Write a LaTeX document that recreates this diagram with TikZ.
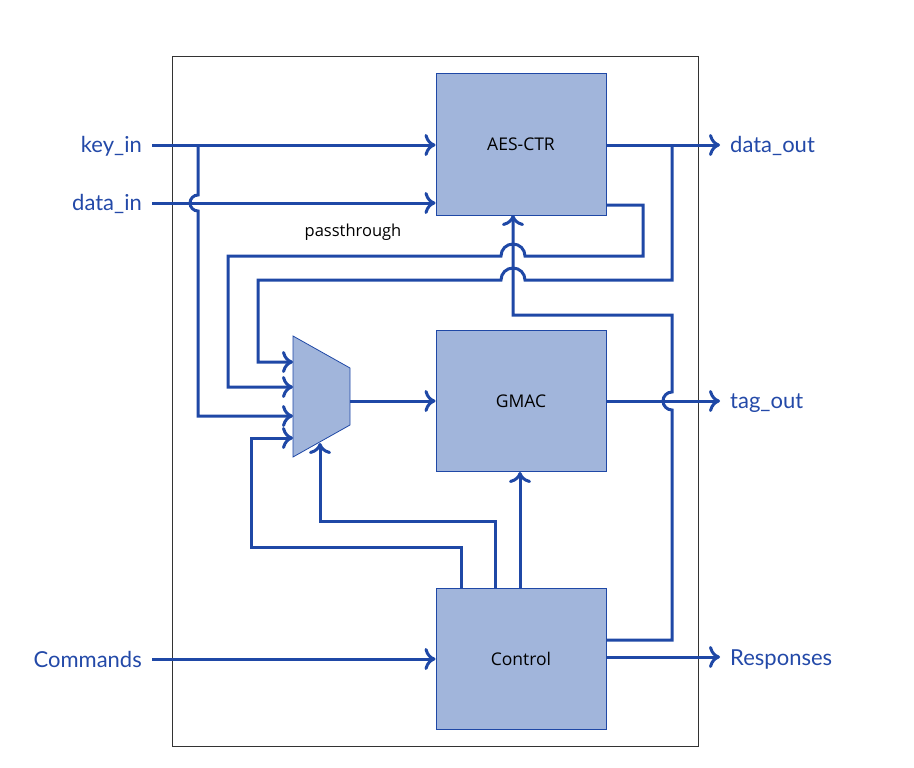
\documentclass[tikz,border=0pt]{standalone}
\usepackage{fontspec}
\setmainfont{Open Sans}
\newfontfamily\labelfont{Lato}
\usetikzlibrary{arrows.meta}
\definecolor{wirec}{HTML}{1F48A6}
\definecolor{labelc}{HTML}{2349A8}
\definecolor{boxfill}{HTML}{A1B5DB}
\begin{document}
\begin{tikzpicture}[x=1pt,y=1pt,
  wire/.style={draw=wirec,line width=3pt},
  arr/.style={wire,-{Computer Modern Rightarrow[length=11pt,width=22pt,line width=3pt]}},
  block/.style={draw=wirec,fill=boxfill,line width=1pt,minimum width=170pt,minimum height=141pt,inner sep=0pt,font=\fontsize{17.5}{21}\selectfont},
  lbl/.style={text=labelc,font=\labelfont\fontsize{22}{26}\selectfont,inner sep=0pt}]
\useasboundingbox (0,0) rectangle (914,-768);
\draw[black!80,line width=0.9pt] (172,-56) rectangle (698,-746);
% blocks
\node[block] (aes) at (521,-144.5) {AES-CTR};
\node[block] (gmac) at (521,-401) {GMAC};
\node[block] (ctrl) at (521,-658.5) {Control};
\draw[draw=wirec,fill=boxfill,line width=0.8pt] (293,-336) -- (350,-368) -- (350,-425) -- (293,-457) -- cycle;
\coordinate (mux) at (321,-401);
% labels
\node[lbl,anchor=base east] (keyin) at (142,-152) {key\_in};
\node[lbl,anchor=base east] (datain) at (142,-210) {data\_in};
\node[lbl,anchor=base east] (cmds) at (142,-667) {Commands};
\node[lbl,anchor=base west] (dataout) at (730,-153) {data\_out};
\node[lbl,anchor=base west] (tagout) at (730,-408) {tag\_out};
\node[lbl,anchor=base west] (resp) at (730,-665) {Responses};
\node[font=\fontsize{16.5}{20}\selectfont,inner sep=0pt] (pt) at (353,-232) {passthrough};
% left inputs
\coordinate (kin) at (152,-145);
\coordinate (din) at (152,-203);
\coordinate (cin) at (152,-659);
\draw[arr] (kin) -- (kin -| aes.west);
\draw[arr] (din) -- (din -| aes.west);
\draw[arr] (cin) -- (cin -| ctrl.west);
% key branch into mux
\draw[arr] (198,-145) -- (198,-195) arc[start angle=90,end angle=270,radius=8] -- (198,-416) -- (293,-416);
% outputs
\draw[arr] (606,-145) -- (720,-145);
\draw[arr] (gmac.east) -- (720,-401);
\draw[arr] (606,-657) -- (720,-657);
% data_out feedback into mux
\draw[arr] (672,-145) -- (672,-280) -- (525,-280) arc[start angle=0,end angle=180,radius=12] -- (258,-280) -- (258,-362) -- (293,-362);
% passthrough
\draw[arr] (606,-205) -- (643,-205) -- (643,-256) -- (525,-256) arc[start angle=0,end angle=180,radius=12] -- (228,-256) -- (228,-387) -- (293,-387);
% control to AES
\draw[arr] (606,-640) -- (672,-640) -- (672,-410) arc[start angle=-90,end angle=-270,radius=9] -- (672,-315) -- (513,-315) -- (513,-215);
% mux out
\draw[arr] (350,-401) -- (gmac.west);
% control to gmac and mux
\draw[arr] (520,-588) -- (520,-472);
\draw[arr] (495,-588) -- (495,-521) -- (320,-521) -- (320,-443);
\draw[arr] (461,-588) -- (461,-547) -- (251,-547) -- (251,-438) -- (293,-438);
\end{tikzpicture}
\end{document}
